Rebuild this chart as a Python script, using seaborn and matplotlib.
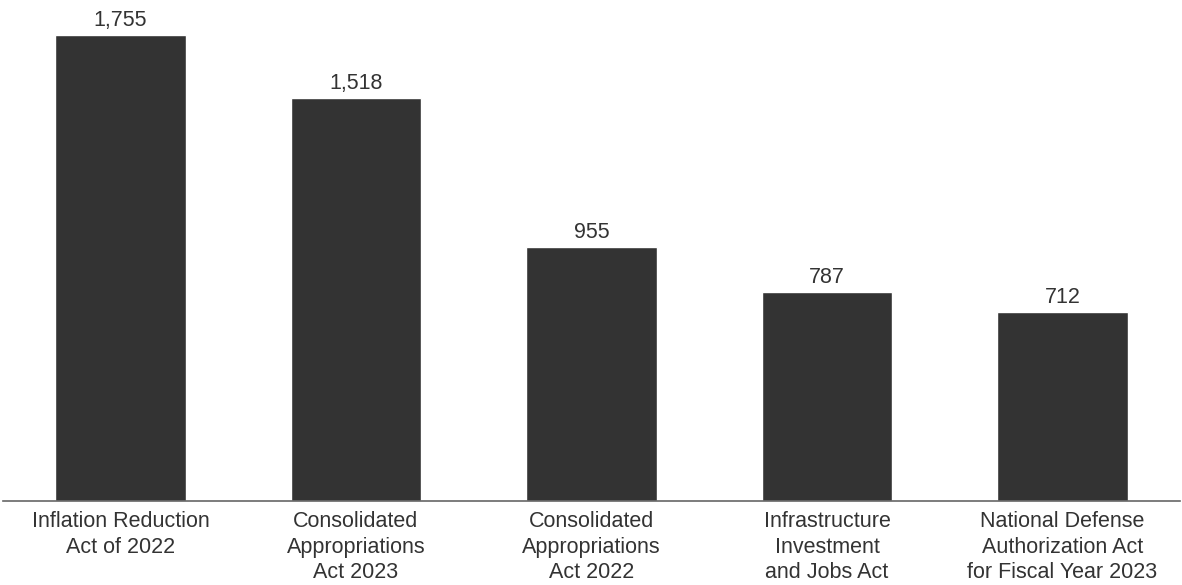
import matplotlib
matplotlib.use("Agg")
import matplotlib.pyplot as plt
import seaborn as sns
import pandas as pd

categories = [
    "Inflation Reduction\nAct of 2022",
    "Consolidated\nAppropriations\nAct 2023",
    "Consolidated\nAppropriations\nAct 2022",
    "Infrastructure\nInvestment\nand Jobs Act",
    "National Defense\nAuthorization Act\nfor Fiscal Year 2023",
]
values = [1755, 1518, 955, 787, 712]

sns.set_theme(style="white")
plt.rcParams["font.family"] = ["Liberation Sans", "DejaVu Sans"]

df = pd.DataFrame({"bill": categories, "value": values})

fig = plt.figure(figsize=(11.82, 5.85), dpi=100)
ax = fig.add_axes([2.75 / 1182, 84 / 585, 1177.5 / 1182, 501 / 585])

sns.barplot(data=df, x="bill", y="value", color="#333333", saturation=1,
            width=0.556, ax=ax)

for p, v in zip(ax.patches, values):
    ax.annotate(f"{v:,}", (p.get_x() + p.get_width() / 2, p.get_height()),
                xytext=(0, 3), textcoords="offset points",
                ha="center", va="bottom", fontsize=15.5, color="#333333")

ax.set_xlim(-0.5, 4.5)
ax.set_ylim(0, 1887)
ax.set_xlabel("")
ax.set_ylabel("")
ax.set_yticks([])
for s in ["top", "right", "left"]:
    ax.spines[s].set_visible(False)
ax.spines["bottom"].set_color("#666666")
ax.spines["bottom"].set_linewidth(1.2)
ax.tick_params(axis="x", length=0, pad=7, labelsize=15.5, labelcolor="#333333")
for t in ax.get_xticklabels():
    t.set_linespacing(1.3)

fig.savefig("out.png", dpi=100, facecolor="white")
